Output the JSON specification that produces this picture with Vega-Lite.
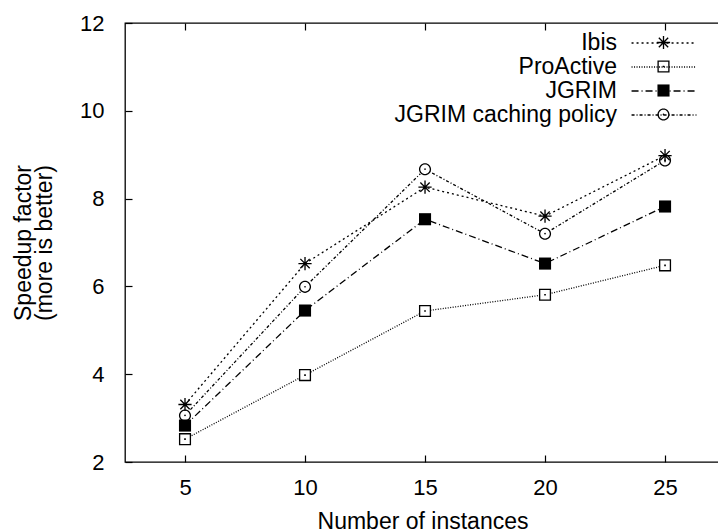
{
  "$schema": "https://vega.github.io/schema/vega-lite/v6.json",
  "width": 595,
  "height": 439,
  "autosize": {"type": "none"},
  "padding": {"left": 125, "top": 23, "right": 0, "bottom": 70},
  "background": "white",
  "config": {
    "view": {"stroke": "black", "strokeWidth": 1.3},
    "font": "Liberation Sans",
    "axis": {
      "domain": false,
      "grid": false,
      "labelColor": "black",
      "titleColor": "black",
      "tickColor": "black",
      "tickWidth": 1.2,
      "labelFont": "Liberation Sans",
      "titleFont": "Liberation Sans",
      "titleFontWeight": "normal",
      "labelFontSize": 22,
      "titleFontSize": 23
    },
    "legend": {"padding": 0, "labelFont": "Liberation Sans", "labelColor": "black"}
  },
  "resolve": {"axis": {"x": "independent"}},
  "data": {
    "values": [
      {"series": "Ibis", "n": 5, "speedup": 3.31},
      {"series": "Ibis", "n": 10, "speedup": 6.52},
      {"series": "Ibis", "n": 15, "speedup": 8.26},
      {"series": "Ibis", "n": 20, "speedup": 7.6},
      {"series": "Ibis", "n": 25, "speedup": 8.98},
      {"series": "ProActive", "n": 5, "speedup": 2.52},
      {"series": "ProActive", "n": 10, "speedup": 3.98},
      {"series": "ProActive", "n": 15, "speedup": 5.44},
      {"series": "ProActive", "n": 20, "speedup": 5.81},
      {"series": "ProActive", "n": 25, "speedup": 6.48},
      {"series": "JGRIM", "n": 5, "speedup": 2.83},
      {"series": "JGRIM", "n": 10, "speedup": 5.45},
      {"series": "JGRIM", "n": 15, "speedup": 7.53},
      {"series": "JGRIM", "n": 20, "speedup": 6.52},
      {"series": "JGRIM", "n": 25, "speedup": 7.82},
      {"series": "JGRIM caching policy", "n": 5, "speedup": 3.06},
      {"series": "JGRIM caching policy", "n": 10, "speedup": 5.99},
      {"series": "JGRIM caching policy", "n": 15, "speedup": 8.67},
      {"series": "JGRIM caching policy", "n": 20, "speedup": 7.2},
      {"series": "JGRIM caching policy", "n": 25, "speedup": 8.87}
    ]
  },
  "layer": [
    {
      "mark": {"type": "line", "stroke": "black", "strokeWidth": 1.3},
      "encoding": {
        "x": {
          "field": "n", "type": "quantitative",
          "scale": {"domain": [2.5, 27.29], "nice": false, "zero": false},
          "axis": {"orient": "bottom", "values": [5, 10, 15, 20, 25], "tickSize": -7, "labelPadding": 22, "title": "Number of instances", "titlePadding": 12}
        },
        "y": {
          "field": "speedup", "type": "quantitative",
          "scale": {"domain": [2, 12], "nice": false, "zero": false},
          "axis": {"values": [2, 4, 6, 8, 10, 12], "tickSize": -7, "labelPadding": 28, "title": ["Speedup factor", "(more is better)"], "titleFontSize": 23, "titleLineHeight": 21, "titlePadding": 23}
        },
        "strokeDash": {
          "field": "series", "type": "nominal",
          "sort": ["Ibis", "ProActive", "JGRIM", "JGRIM caching policy"],
          "scale": {"range": [[2, 3], [1, 1.5], [7, 3, 1, 3], [3, 2, 1, 2]]},
          "legend": {
            "orient": "none", "legendX": 527, "legendY": 8, "title": null,
            "symbolType": "M-2.95,0L2.95,0", "symbolSize": 484, "symbolStrokeColor": "black", "symbolStrokeWidth": 1.3,
            "labelAlign": "right", "labelOffset": -59, "labelFontSize": 23, "labelLimit": 400, "rowPadding": 0
          }
        }
      }
    },
    {
      "transform": [{"filter": "datum.series == 'ProActive' || datum.series == 'JGRIM caching policy'"}],
      "mark": {"type": "square", "color": "white", "opacity": 1, "size": 100},
      "encoding": {
        "x": {"field": "n", "type": "quantitative", "axis": null},
        "y": {"field": "speedup", "type": "quantitative"}
      }
    },
    {
      "mark": {"type": "point", "filled": true, "fill": "black", "strokeWidth": 0, "opacity": 1, "size": 121},
      "encoding": {
        "x": {"field": "n", "type": "quantitative", "axis": {"orient": "top", "values": [5, 10, 15, 20, 25], "tickSize": -7, "labels": false, "title": null}},
        "y": {"field": "speedup", "type": "quantitative"},
        "shape": {
          "field": "series", "type": "nominal",
          "scale": {
            "domain": ["Ibis", "ProActive", "JGRIM", "JGRIM caching policy"],
            "range": [
              "M-1.2,-0.12L1.2,-0.12L1.2,0.12L-1.2,0.12Z M-0.12,-1.2L0.12,-1.2L0.12,1.2L-0.12,1.2Z M-0.765,-0.935L0.935,0.765L0.765,0.935L-0.935,-0.765Z M-0.935,0.765L0.765,-0.935L0.935,-0.765L-0.765,0.935Z",
              "M-1.1,-1.1L1.1,-1.1L1.1,1.1L-1.1,1.1Z M-0.86,-0.86L-0.86,0.86L0.86,0.86L0.86,-0.86Z M-0.15,-0.15L0.15,-0.15L0.15,0.15L-0.15,0.15Z",
              "M-1.1,-1.1L1.1,-1.1L1.1,1.1L-1.1,1.1Z",
              "M1.1,0A1.1,1.1,0,1,1,-1.1,0A1.1,1.1,0,1,1,1.1,0Z M0.86,0A0.86,0.86,0,1,0,-0.86,0A0.86,0.86,0,1,0,0.86,0Z M0.16,0A0.16,0.16,0,1,1,-0.16,0A0.16,0.16,0,1,1,0.16,0Z"
            ]
          },
          "legend": {
            "orient": "none", "legendX": 527, "legendY": 8, "title": null,
            "symbolSize": 121, "symbolFillColor": "black", "symbolStrokeWidth": 0,
            "labelOpacity": 0, "labelFontSize": 23, "rowPadding": 0
          }
        }
      }
    }
  ]
}
